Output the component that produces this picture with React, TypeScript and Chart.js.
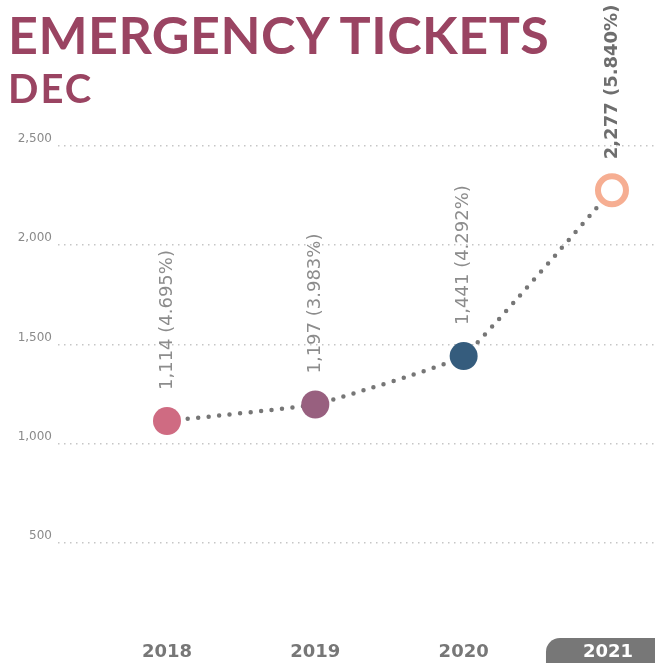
import React, { useEffect, useRef } from 'react';
import { Chart, registerables } from 'chart.js';

Chart.register(...registerables);

const years = ['2018', '2019', '2020', '2021'];
const tickets = [1114, 1197, 1441, 2277];
const shares = ['4.695%', '3.983%', '4.292%', '5.840%'];
const yTickValues = [500, 1000, 1500, 2000, 2500];
const titleText = 'EMERGENCY TICKETS';
const subtitleText = 'DEC';

const pointFill = ['#CF6B82', '#98607F', '#355C7D', '#FFFFFF'];
const pointStroke = ['#CF6B82', '#98607F', '#355C7D', '#F6AE92'];
const pointStrokeWidth = [0, 0, 0, 6];

const fmt = (n: number) => n.toLocaleString('en-US');

export default function App() {
  const ref = useRef<HTMLCanvasElement>(null);

  useEffect(() => {
    if (!ref.current) return;

    const labelPlugin = {
      id: 'customLabels',
      afterDatasetsDraw(chart: any) {
        const ctx = chart.ctx as CanvasRenderingContext2D;
        const meta = chart.getDatasetMeta(0);
        meta.data.forEach((pt: any, i: number) => {
          const last = i === tickets.length - 1;
          ctx.save();
          ctx.translate(pt.x, pt.y - 31);
          ctx.rotate(-Math.PI / 2);
          ctx.font = `${last ? 'bold ' : ''}18px "DejaVu Sans"`;
          ctx.fillStyle = last ? '#6e6e6e' : '#8c8c8c';
          ctx.textAlign = 'left';
          ctx.textBaseline = 'middle';
          ctx.fillText(`${fmt(tickets[i])} (${shares[i]})`, 0, 0);
          ctx.restore();
        });

        const xs = chart.scales.x;
        years.forEach((yr, i) => {
          const x = xs.getPixelForValue(i);
          const last = i === years.length - 1;
          ctx.save();
          if (last) {
            ctx.beginPath();
            (ctx as any).roundRect(x - 66, 638, 160, 40, 14);
            ctx.fillStyle = '#777777';
            ctx.fill();
          }
          ctx.font = 'bold 18px "DejaVu Sans"';
          ctx.fillStyle = last ? '#ffffff' : '#777777';
          ctx.textAlign = 'center';
          ctx.textBaseline = 'alphabetic';
          ctx.fillText(yr, x - (last ? 4 : 0), 657);
          ctx.restore();
        });
      },
    };

    const chart = new Chart(ref.current, {
      type: 'line',
      data: {
        datasets: [
          {
            data: tickets.map((v, i) => ({ x: i, y: v })),
            borderColor: '#767676',
            borderWidth: 4.5,
            borderDash: [0, 10.5],
            borderCapStyle: 'round',
            tension: 0.08,
            fill: false,
            pointRadius: 14,
            pointHoverRadius: 14,
            pointBackgroundColor: pointFill,
            pointBorderColor: pointStroke,
            pointBorderWidth: pointStrokeWidth,
            clip: false,
          } as any,
        ],
      },
      options: {
        animation: false,
        responsive: false,
        events: [],
        layout: { autoPadding: false, padding: { top: 146, bottom: 21, left: 0, right: 0 } },
        plugins: {
          legend: { display: false },
          tooltip: { enabled: false },
          title: { display: false },
        },
        scales: {
          x: {
            type: 'linear',
            min: -0.7348,
            max: 3.29,
            display: false,
          },
          y: {
            type: 'linear',
            min: 0,
            max: 2500,
            afterBuildTicks: (scale: any) => {
              scale.ticks = yTickValues.map((v) => ({ value: v }));
            },
            afterFit: (scale: any) => {
              scale.width = 58;
            },
            ticks: {
              padding: 6,
              labelOffset: -7,
              color: '#8a8a8a',
              font: { family: '"DejaVu Sans"', size: 12 },
              callback: (v: any) => fmt(Number(v)),
            },
            grid: {
              color: '#c6c6c6',
              lineWidth: 1.5,
              drawTicks: false,
            },
            border: { display: false, dash: [1.5, 4.5] },
          },
        },
      } as any,
      plugins: [labelPlugin],
    });

    return () => chart.destroy();
  }, []);

  return (
    <div style={{ position: 'absolute', left: 0, top: 0, width: 655, height: 663, background: '#fff', overflow: 'hidden' }}>
      <canvas ref={ref} width={655} height={663} style={{ position: 'absolute', left: 0, top: 0 }} />
      <div
        style={{
          position: 'absolute',
          left: 8,
          top: 8,
          fontFamily: 'Lato, sans-serif',
          fontWeight: 700,
          fontSize: 52,
          lineHeight: 1,
          letterSpacing: 0.5,
          color: '#9A4462',
          whiteSpace: 'nowrap',
        }}
      >
        {titleText}
      </div>
      <div
        style={{
          position: 'absolute',
          left: 8,
          top: 68,
          fontFamily: 'Lato, sans-serif',
          fontWeight: 700,
          fontSize: 40,
          lineHeight: 1,
          letterSpacing: 2,
          color: '#9A4462',
          whiteSpace: 'nowrap',
        }}
      >
        {subtitleText}
      </div>
    </div>
  );
}
